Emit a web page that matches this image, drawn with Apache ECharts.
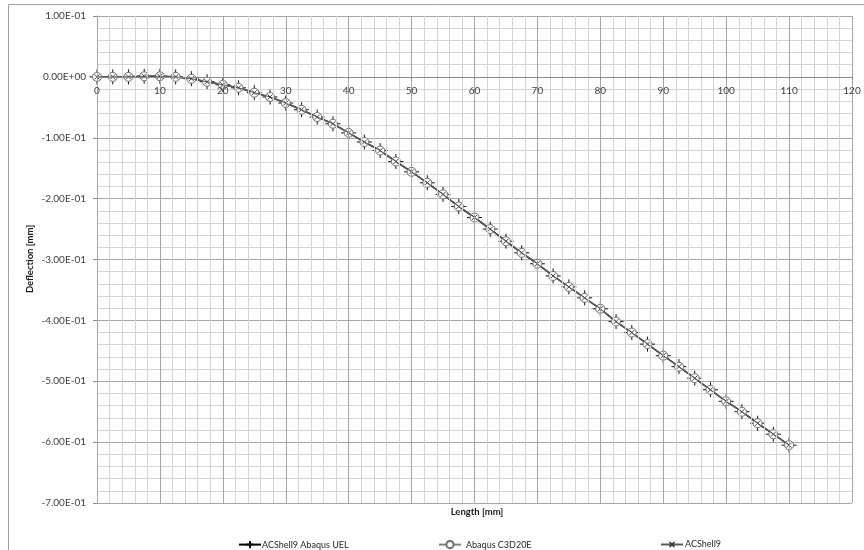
<!DOCTYPE html>
<html>
<head>
<meta charset="utf-8">
<script src="https://cdn.jsdelivr.net/npm/echarts@6/dist/echarts.min.js"></script>
<style>
  html, body { margin: 0; padding: 0; background: #fff; }
  #chart { width: 864px; height: 550px; }
</style>
</head>
<body>
<div id="chart"></div>
<script>
// x positions along the shell [mm]
var lengthMm = [
  0, 2.5, 5, 7.5, 10, 12.5, 15, 17.5, 20, 22.5,
  25, 27.5, 30, 32.5, 35, 37.5, 40, 42.5, 45, 47.5,
  50, 52.5, 55, 57.5, 60, 62.5, 65, 67.5, 70, 72.5,
  75, 77.5, 80, 82.5, 85, 87.5, 90, 92.5, 95, 97.5,
  100, 102.5, 105, 107.5, 110
]

// deflection [mm]
var uelDeflection = [
  0, 0, 0, 0.001, 0.001, 0, -0.003, -0.008, -0.013, -0.018,
  -0.026, -0.033, -0.043, -0.054, -0.066, -0.077, -0.092, -0.107, -0.121, -0.139,
  -0.156, -0.174, -0.193, -0.213, -0.231, -0.250, -0.270, -0.289, -0.307, -0.327,
  -0.345, -0.363, -0.381, -0.402, -0.420, -0.439, -0.458, -0.476, -0.495, -0.514,
  -0.533, -0.550, -0.569, -0.587, -0.605
]
var c3d20Deflection = [
  0, 0, 0, 0.001, 0.001, 0, -0.003, -0.008, -0.013, -0.018,
  -0.026, -0.033, -0.043, -0.054, -0.066, -0.077, -0.092, -0.107, -0.121, -0.139,
  -0.156, -0.174, -0.193, -0.213, -0.231, -0.250, -0.270, -0.289, -0.307, -0.327,
  -0.345, -0.363, -0.381, -0.402, -0.420, -0.439, -0.458, -0.476, -0.495, -0.514,
  -0.533, -0.550, -0.569, -0.587, -0.605
]
var acshellDeflection = [
  0, 0, 0, 0.001, 0.001, 0, -0.003, -0.008, -0.013, -0.018,
  -0.026, -0.033, -0.043, -0.054, -0.066, -0.077, -0.092, -0.107, -0.121, -0.139,
  -0.156, -0.174, -0.193, -0.213, -0.231, -0.250, -0.270, -0.289, -0.307, -0.327,
  -0.345, -0.363, -0.381, -0.402, -0.420, -0.439, -0.458, -0.476, -0.495, -0.514,
  -0.533, -0.550, -0.569, -0.587, -0.605
]

var seriesNames = ['ACShell9 Abaqus UEL', 'Abaqus C3D20E', 'ACShell9']

var FONT = 'Lato, "Open Sans", sans-serif'

var yMin = -0.7
var yMax = 0.1
var gridTop = 16
var gridBottom = 47
var chartHeight = 550

function pairs (ys) {
  return lengthMm.map(function (x, i) { return [x, ys[i]] })
}

// Excel style 1.00E-01
function sci (v) {
  if (Math.abs(v) < 1e-9) return '0.00E+00'
  var parts = v.toExponential(2).split('e')
  var e = parts[1]
  return parts[0] + 'E' + e.charAt(0) + e.slice(1).padStart(2, '0')
}

// x axis sits on y = 0, shift it up from the bottom of the grid
var plotH = chartHeight - gridTop - gridBottom
var zeroOffset = -plotH * (0 - yMin) / (yMax - yMin)

var chart = echarts.init(document.getElementById('chart'))

var option = {
  backgroundColor: '#fff',
  animation: false,
  grid: { left: 97, right: 12, top: gridTop, bottom: gridBottom },
  graphic: [
    {
      type: 'rect',
      shape: { x: 8.5, y: 4.5, width: 900, height: 600 },
      style: { fill: 'none', stroke: '#a0a0a0', lineWidth: 1 },
      silent: true
    },
    {
      type: 'text',
      x: 477,
      y: 512,
      style: { text: 'Length [mm]', align: 'center', verticalAlign: 'middle', font: 'bold 9.5px ' + FONT, fill: '#1a1a1a' }
    },
    {
      type: 'text',
      x: 30,
      y: 259,
      rotation: Math.PI / 2,
      style: { text: 'Deflection [mm]', align: 'center', verticalAlign: 'middle', font: 'bold 9.5px ' + FONT, fill: '#1a1a1a' }
    }
  ],
  legend: [
    {
      data: [seriesNames[0]], left: 233, top: 535, itemWidth: 22, itemHeight: 9, itemGap: 0,
      textStyle: { fontFamily: FONT, fontSize: 9, color: '#262626', padding: [0, 0, 0, -4] }
    },
    {
      data: [seriesNames[1]], left: 433, top: 535, itemWidth: 22, itemHeight: 9, itemGap: 0,
      textStyle: { fontFamily: FONT, fontSize: 9, color: '#262626' }
    },
    {
      data: [seriesNames[2]], left: 655, top: 535, itemWidth: 22, itemHeight: 6, itemGap: 0,
      textStyle: { fontFamily: FONT, fontSize: 9, color: '#262626', padding: [0, 0, 0, -3] }
    }
  ],
  xAxis: {
    type: 'value',
    min: 0,
    max: 120,
    interval: 10,
    position: 'bottom',
    offset: zeroOffset,
    z: 5,
    axisLine: { onZero: false, lineStyle: { color: '#8c8c8c', width: 1 } },
    axisTick: { show: true, length: 3, lineStyle: { color: '#8c8c8c' } },
    axisLabel: { margin: 9, fontFamily: FONT, fontSize: 10, color: '#404040', hideOverlap: false },
    splitLine: { show: true, lineStyle: { color: '#a6a6a6', width: 1 } },
    minorTick: { show: false, splitNumber: 5 },
    minorSplitLine: { show: true, lineStyle: { color: '#d4d4d4', width: 1 } }
  },
  yAxis: {
    type: 'value',
    min: yMin,
    max: yMax,
    interval: 0.1,
    axisLine: { show: true, onZero: false, lineStyle: { color: '#8c8c8c', width: 1 } },
    axisTick: { show: true, length: 4, lineStyle: { color: '#8c8c8c' } },
    axisLabel: { margin: 11, fontFamily: FONT, fontSize: 10, color: '#404040', formatter: sci },
    splitLine: { show: true, lineStyle: { color: '#a6a6a6', width: 1 } },
    minorTick: { show: false, splitNumber: 5 },
    minorSplitLine: { show: true, lineStyle: { color: '#d4d4d4', width: 1 } }
  },
  series: [
    {
      name: seriesNames[0],
      type: 'line',
      data: pairs(uelDeflection),
      symbol: 'path://M5,0L5,10M0,5L10,5',
      symbolSize: 15,
      showAllSymbol: true,
      lineStyle: { color: '#000', width: 1.6 },
      itemStyle: { color: 'rgba(0,0,0,0)', borderColor: '#111', borderWidth: 1 },
      z: 2
    },
    {
      name: seriesNames[1],
      type: 'line',
      data: pairs(c3d20Deflection),
      symbol: 'circle',
      symbolSize: 9,
      showAllSymbol: true,
      lineStyle: { color: '#7f7f7f', width: 1 },
      itemStyle: { color: '#fff', borderColor: '#6e6e6e', borderWidth: 1 },
      z: 3
    },
    {
      name: seriesNames[2],
      type: 'line',
      data: pairs(acshellDeflection),
      symbol: 'path://M0,0L10,10M10,0L0,10',
      symbolSize: 5,
      showAllSymbol: true,
      lineStyle: { color: '#595959', width: 1 },
      itemStyle: { color: 'rgba(0,0,0,0)', borderColor: '#404040', borderWidth: 1 },
      z: 4
    }
  ]
}

chart.setOption(option)
</script>
</body>
</html>
